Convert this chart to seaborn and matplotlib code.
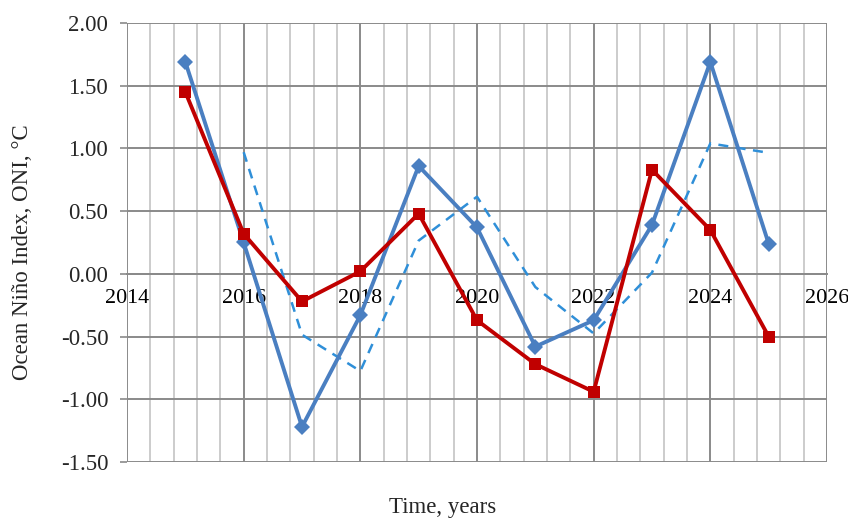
import numpy as np
import pandas as pd
import matplotlib
matplotlib.use("Agg")
import matplotlib.pyplot as plt
from matplotlib.ticker import MultipleLocator, FormatStrFormatter
import matplotlib.transforms as mtransforms
import seaborn as sns

years = [2015, 2016, 2017, 2018, 2019, 2020, 2021, 2022, 2023, 2024, 2025]
oni_blue = [1.69, 0.25, -1.22, -0.33, 0.86, 0.37, -0.58, -0.37, 0.39, 1.69, 0.24]
oni_red = [1.45, 0.32, -0.22, 0.02, 0.48, -0.37, -0.72, -0.94, 0.83, 0.35, -0.50]
ma_years = [2016, 2017, 2018, 2019, 2020, 2021, 2022, 2023, 2024, 2025]
ma_blue = [0.97, -0.485, -0.775, 0.265, 0.615, -0.105, -0.475, 0.01, 1.04, 0.965]

sns.set_theme(style="white")
plt.rcParams["font.family"] = ["Liberation Serif", "DejaVu Serif"]
plt.rcParams["axes.unicode_minus"] = False

FS = 16.5
FSX = 15.8

fig = plt.figure(figsize=(8.48, 5.21), dpi=100)
ax = fig.add_axes([127/848, 1-462/521, 700/848, 439/521])

df_b = pd.DataFrame({"year": years, "oni": oni_blue})
df_r = pd.DataFrame({"year": years, "oni": oni_red})
df_m = pd.DataFrame({"year": ma_years, "oni": ma_blue})

sns.lineplot(data=df_m, x="year", y="oni", ax=ax, color="#2f8fd8", lw=1.8,
             linestyle=(0, (4, 3)), zorder=3)
sns.lineplot(data=df_b, x="year", y="oni", ax=ax, color="#4a7fc1", lw=2.8,
             marker="D", markersize=8, markeredgewidth=0, zorder=4)
sns.lineplot(data=df_r, x="year", y="oni", ax=ax, color="#c00000", lw=2.8,
             marker="s", markersize=9, markeredgewidth=0, zorder=5)

ax.set_xlim(2014, 2026)
ax.set_ylim(-1.5, 2.0)
ax.xaxis.set_major_locator(MultipleLocator(2))
ax.xaxis.set_minor_locator(MultipleLocator(0.4))
ax.yaxis.set_major_locator(MultipleLocator(0.5))
ax.yaxis.set_major_formatter(FormatStrFormatter("%.2f"))

ax.grid(which="major", axis="x", color="#8a8a8a", lw=1.4)
ax.grid(which="minor", axis="x", color="#c4c4c4", lw=1.2)
ax.grid(which="major", axis="y", color="#8a8a8a", lw=1.4)
ax.set_axisbelow(True)

for s in ["top", "right", "left"]:
    ax.spines[s].set_visible(False)
ax.spines["bottom"].set_position(("data", 0))
ax.spines["bottom"].set_color("#8a8a8a")
ax.spines["bottom"].set_linewidth(1.4)

ax.tick_params(axis="x", which="both", length=0, pad=11, labelsize=FSX, colors="black")
ax.tick_params(axis="y", which="major", length=5, width=1.2, color="#8a8a8a",
               pad=8.5, labelsize=FS, left=True)
ax.set_xlabel("")
ax.set_ylabel("")

fig.canvas.draw()
# nudge the last x tick label slightly left so it stays inside the figure
last = ax.get_xticklabels()[-1]
last.set_transform(last.get_transform() + mtransforms.ScaledTranslation(-3/100, 0, fig.dpi_scale_trans))

fig.text(23/848, 1-252/521, "Ocean Niño Index, ONI, °C", rotation=90,
         ha="center", va="center", fontsize=FS)
fig.text(443/848, 1-507/521, "Time, years", ha="center", va="center", fontsize=FS)

fig.savefig("out.png", dpi=100, facecolor="white")
